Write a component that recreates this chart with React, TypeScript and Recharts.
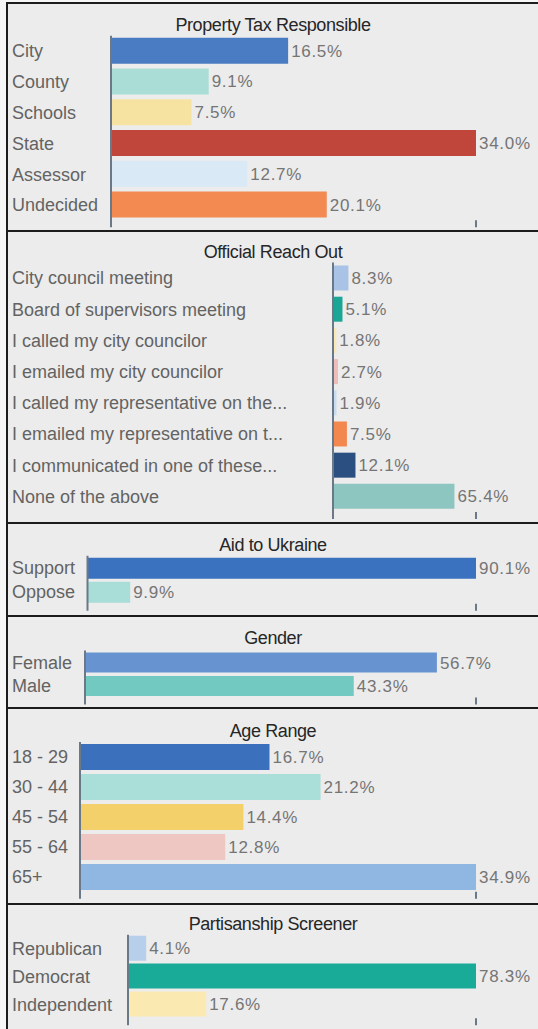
import React from 'react';
import { BarChart, Bar, XAxis, YAxis, Cell, LabelList } from 'recharts';

const FONT = '"Liberation Sans", Arial, Helvetica, sans-serif';

// ---- data ----
const taxTitle = 'Property Tax Responsible';
const taxCategories = ['City', 'County', 'Schools', 'State', 'Assessor', 'Undecided'];
const taxValues = [16.5, 9.1, 7.5, 34.0, 12.7, 20.1];

const reachTitle = 'Official Reach Out';
const reachCategories = [
  'City council meeting',
  'Board of supervisors meeting',
  'I called my city councilor',
  'I emailed my city councilor',
  'I called my representative on the...',
  'I emailed my representative on t...',
  'I communicated in one of these...',
  'None of the above',
];
const reachValues = [8.3, 5.1, 1.8, 2.7, 1.9, 7.5, 12.1, 65.4];

const ukraineTitle = 'Aid to Ukraine';
const ukraineCategories = ['Support', 'Oppose'];
const ukraineValues = [90.1, 9.9];

const genderTitle = 'Gender';
const genderCategories = ['Female', 'Male'];
const genderValues = [56.7, 43.3];

const ageTitle = 'Age Range';
const ageCategories = ['18 - 29', '30 - 44', '45 - 54', '55 - 64', '65+'];
const ageValues = [16.7, 21.2, 14.4, 12.8, 34.9];

const partyTitle = 'Partisanship Screener';
const partyCategories = ['Republican', 'Democrat', 'Independent'];
const partyValues = [4.1, 78.3, 17.6];

// axis maxima (value at the right end tick)
const axisMax = [34.0, 77, 90.1, 63, 34.9, 78.3];

// ---- styles ----
const taxColors = ['#4a7cc4', '#a9ddd6', '#f6e3a2', '#c0463c', '#d9e9f6', '#f28a52'];
const reachColors = ['#a9c3e7', '#1ba594', '#f7e8b6', '#eebdb9', '#c8dcf2', '#f2884e', '#2c4f81', '#8dc6c0'];
const ukraineColors = ['#3a72bf', '#a8ddd8'];
const genderColors = ['#6794d0', '#72c9c1'];
const ageColors = ['#3a70bc', '#aadfd9', '#f3d06a', '#eec7c3', '#90b7e1'];
const partyColors = ['#b8cfec', '#1aaa98', '#faeab2'];

// geometry: borderTop (absolute y), total height incl. border, axis x, plot top (relative), row spacing, bar size, title center (relative)
const geoms = [
  { top: 2, h: 228, axisX: 111, plotTop: 31.7, spacing: 30.6, bar: 26, titleY: 21 },
  { top: 230, h: 292, axisX: 333, plotTop: 30.5, spacing: 31.07, bar: 25, titleY: 20 },
  { top: 522, h: 93, axisX: 87.5, plotTop: 31.75, spacing: 23.5, bar: 21, titleY: 20.5 },
  { top: 615, h: 92, axisX: 85, plotTop: 33.5, spacing: 23, bar: 20, titleY: 21 },
  { top: 707, h: 196, axisX: 80, plotTop: 33.1, spacing: 29.75, bar: 26, titleY: 22 },
  { top: 903, h: 126, axisX: 128, plotTop: 29.75, spacing: 27.5, bar: 25, titleY: 18.5 },
];

const panels = [
  { title: taxTitle, categories: taxCategories, values: taxValues, colors: taxColors },
  { title: reachTitle, categories: reachCategories, values: reachValues, colors: reachColors },
  { title: ukraineTitle, categories: ukraineCategories, values: ukraineValues, colors: ukraineColors },
  { title: genderTitle, categories: genderCategories, values: genderValues, colors: genderColors },
  { title: ageTitle, categories: ageCategories, values: ageValues, colors: ageColors },
  { title: partyTitle, categories: partyCategories, values: partyValues, colors: partyColors },
];

const BORDER = 2;
const PANEL_W = 530;
const PLOT_RIGHT = 476 - 8; // relative to panel content left
const AXIS_COLOR = '#6a7988';
const PAD_BOTTOM = 7;

const renderCategoryTick = (props: any) => {
  const { y, payload } = props;
  return (
    <text x={4} y={y + 6.4} fontSize={18} fill="#636363" fontFamily={FONT}>
      {payload.value}
    </text>
  );
};

const renderValueLabel = (props: any) => {
  const vb = props.viewBox || {};
  const x = props.x ?? vb.x;
  const y = props.y ?? vb.y;
  const width = props.width ?? vb.width;
  const height = props.height ?? vb.height;
  const value = props.value;
  return (
    <text
      x={x + width + 3}
      y={y + height / 2 + 6}
      fontSize={17}
      letterSpacing={0.7}
      fill="#757575"
      fontFamily={FONT}
    >
      {Number(value).toFixed(1)}%
    </text>
  );
};

function Panel({ idx }: { idx: number }) {
  const p = panels[idx];
  const g = geoms[idx];
  const max = axisMax[idx];
  const data = p.categories.map((name, i) => ({ name, value: p.values[i] }));
  const contentH = g.h - BORDER;
  const plotH = p.categories.length * g.spacing + PAD_BOTTOM;
  const xAxisH = 1;
  const bottom = contentH - g.plotTop - plotH - xAxisH;
  return (
    <div
      style={{
        position: 'absolute',
        left: 6,
        top: g.top,
        width: PANEL_W,
        height: contentH,
        borderTop: `${BORDER}px solid #1c1c1c`,
        borderLeft: `${BORDER}px solid #1c1c1c`,
        background: '#ececec',
      }}
    >
      <div
        style={{
          position: 'absolute',
          left: 0,
          top: g.titleY - 11,
          width: PANEL_W,
          lineHeight: '22px',
          textAlign: 'center',
          fontFamily: FONT,
          fontSize: 18,
          letterSpacing: -0.4,
          color: '#262626',
        }}
      >
        {p.title}
      </div>
      <div style={{ position: 'absolute', left: 0, top: 0 }}>
        <BarChart
          width={PANEL_W}
          height={contentH}
          data={data}
          layout="vertical"
          margin={{ top: g.plotTop, right: PANEL_W - PLOT_RIGHT, left: 0, bottom }}
        >
          <XAxis
            type="number"
            domain={[0, max]}
            ticks={[max]}
            allowDataOverflow
            axisLine={false}
            tickLine={{ stroke: AXIS_COLOR, strokeWidth: 2 }}
            tickSize={7}
            mirror
            height={xAxisH}
            tickFormatter={() => ''}
            interval={0}
          />
          <YAxis
            type="category"
            dataKey="name"
            width={g.axisX - 8}
            axisLine={{ stroke: AXIS_COLOR, strokeWidth: 2 }}
            tickLine={false}
            tick={renderCategoryTick}
            interval={0}
            padding={{ top: 0, bottom: PAD_BOTTOM }}
          />
          <Bar dataKey="value" barSize={g.bar} isAnimationActive={false}>
            {data.map((d, i) => (
              <Cell key={d.name} fill={p.colors[i]} />
            ))}
            <LabelList dataKey="value" content={renderValueLabel} />
          </Bar>
        </BarChart>
      </div>
    </div>
  );
}

export default function App() {
  return (
    <div
      style={{
        position: 'absolute',
        left: 0,
        top: 0,
        width: 538,
        height: 1029,
        overflow: 'hidden',
        background: '#f6f6f6',
      }}
    >
      {panels.map((_, i) => (
        <Panel key={i} idx={i} />
      ))}
    </div>
  );
}
